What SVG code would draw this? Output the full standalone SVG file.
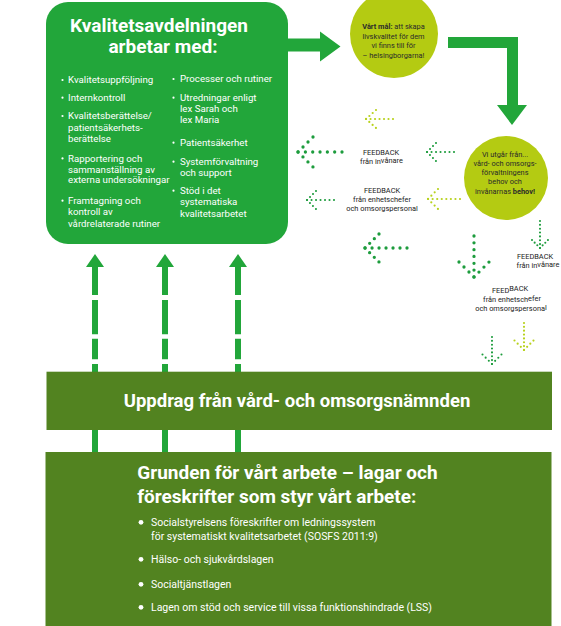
<svg xmlns="http://www.w3.org/2000/svg" width="561" height="626" viewBox="0 0 561 626">
<style>
text{font-family:Roboto,"Liberation Sans",sans-serif}
.w{fill:#fff}
.h1{font-size:19px;font-weight:700;fill:#fff}
.li{font-size:9.7px;fill:#fff}
.bl{fill:#fff}
.fb{font-size:7.4px;fill:#222;text-anchor:middle}
.ci{font-size:7.4px;fill:#2a2a2a;text-anchor:middle}
.g{fill:#22a63a}
.dd{fill:none;stroke:#1d9c3d;stroke-linecap:round;stroke-width:3.3}
.ds{fill:none;stroke:#1d9c3d;stroke-linecap:round;stroke-width:2.1}
.ls{fill:none;stroke:#b8d21d;stroke-linecap:round;stroke-width:2.2}
.up{fill:none;stroke:#22a63a;stroke-width:6}
.lst{font-size:10.5px;fill:#fff}
</style>

<g id="connectors">
  <!-- box to goal -->
  <path class="g" d="M287,38.5 H320 V31.5 L340.5,46.5 L320,61.5 V51.5 H287 Z"/>
  <!-- goal to needs -->
  <path class="g" d="M448,37 H518 V105 H527 L512,125 L497,105 H507 V48 H448 Z"/>
  <!-- dashed up arrows -->
  <g id="up1">
    <path class="up" d="M95,452 V430 M95,372 V364 M95,359.3 V338.7 M95,334.3 V300 M95,295 V266"/>
    <polygon class="g" points="86,267 95,254 104,267"/>
  </g>
  <g id="up2">
    <path class="up" d="M165,452 V430 M165,372 V364 M165,359.3 V338.7 M165,334.3 V300 M165,295 V266"/>
    <polygon class="g" points="156,267 165,254 174,267"/>
  </g>
  <g id="up3">
    <path class="up" d="M238,452 V430 M238,372 V364 M238,359.3 V338.7 M238,334.3 V300 M238,295 V266"/>
    <polygon class="g" points="229,267 238,254 247,267"/>
  </g>
  <!-- dotted feedback arrows -->
  <path class="ls" stroke-dasharray="0 4.49" d="M393,119 L366,119"/>
  <path class="ls" stroke-dasharray="0 4.47" d="M376,110 L366,119 L376,128"/>

  <path class="dd" stroke-dasharray="0 7.32" d="M342,152 L298,152"/>
  <path class="dd" stroke-dasharray="0 7.06" d="M313,137 L298,152 L313,167"/>

  <path class="ds" stroke-dasharray="0 4.49" d="M454,152 L427,152"/>
  <path class="ds" stroke-dasharray="0 4.23" d="M436,143 L427,152 L436,161"/>

  <path class="ds" stroke-dasharray="0 4.49" d="M334,200 L307,200"/>
  <path class="ds" stroke-dasharray="0 4.23" d="M316,191 L307,200 L316,209"/>

  <path class="ls" stroke-dasharray="0 4.56" d="M460,199 L428,199"/>
  <path class="ls" stroke-dasharray="0 4.7" d="M438,189 L428,199 L438,209"/>

  <path class="dd" stroke-dasharray="0 6.99" d="M407,248 L365,248"/>
  <path class="dd" stroke-dasharray="0 6.59" d="M379,234 L365,248 L379,262"/>

  <path class="dd" stroke-dasharray="0 6.82" d="M474,236 L474,277"/>
  <path class="dd" stroke-dasharray="0 7.06" d="M459,262 L474,277 L489,262"/>

  <path class="ds" stroke-dasharray="0 3.85" d="M540,221 L540,248"/>
  <path class="ds" stroke-dasharray="0 3.76" d="M532,240 L540,248 L548,240"/>

  <path class="ds" stroke-dasharray="0 3.85" d="M492,337 L492,364"/>
  <path class="ds" stroke-dasharray="0 4.47" d="M482.5,354.5 L492,364 L501.5,354.5"/>

  <path class="ls" stroke-dasharray="0 3.85" d="M524,323 L524,350"/>
  <path class="ls" stroke-dasharray="0 4.47" d="M514.5,340.5 L524,350 L533.5,340.5"/>
</g>

<g id="kvalitet">
  <rect class="g" x="46" y="2" width="242" height="242" rx="22"/>
  <text class="h1" x="159" y="31.7" text-anchor="middle">Kvalitetsavdelningen</text>
  <text class="h1" x="163" y="53.3" text-anchor="middle">arbetar med:</text>
  <g class="bl">
    <circle cx="62.5" cy="80" r="1.1"/>
    <circle cx="62.5" cy="97.7" r="1.1"/>
    <circle cx="62.5" cy="116" r="1.1"/>
    <circle cx="62.5" cy="158.4" r="1.1"/>
    <circle cx="62.5" cy="200.7" r="1.1"/>
    <circle cx="173.5" cy="79" r="1.1"/>
    <circle cx="173.5" cy="97.7" r="1.1"/>
    <circle cx="173.5" cy="142.7" r="1.1"/>
    <circle cx="173.5" cy="161.7" r="1.1"/>
    <circle cx="173.5" cy="190.7" r="1.1"/>
  </g>
  <text class="li" x="68" y="83.3">Kvalitetsuppföljning</text>
  <text class="li" x="68" y="101">Internkontroll</text>
  <text class="li" x="68" y="119.3">Kvalitetsberättelse/</text>
  <text class="li" x="68" y="131">patientsäkerhets-</text>
  <text class="li" x="68" y="141.7">berättelse</text>
  <text class="li" x="68" y="161.7">Rapportering och</text>
  <text class="li" x="68" y="172.7">sammanställning av</text>
  <text class="li" x="68" y="183.3">externa undersökningar</text>
  <text class="li" x="68" y="204">Framtagning och</text>
  <text class="li" x="68" y="215">kontroll av</text>
  <text class="li" x="68" y="226.7">vårdrelaterade rutiner</text>
  <text class="li" x="180" y="82.3">Processer och rutiner</text>
  <text class="li" x="180" y="101">Utredningar enligt</text>
  <text class="li" x="180" y="112.3">lex Sarah och</text>
  <text class="li" x="180" y="123.3">lex Maria</text>
  <text class="li" x="180" y="146">Patientsäkerhet</text>
  <text class="li" x="180" y="165">Systemförvaltning</text>
  <text class="li" x="180" y="175.7">och support</text>
  <text class="li" x="180" y="194">Stöd i det</text>
  <text class="li" x="180" y="205">systematiska</text>
  <text class="li" x="180" y="216.7">kvalitetsarbetet</text>
</g>

<g id="mal">
  <circle cx="394" cy="34" r="44" fill="#b4cb12"/>
  <text class="ci" x="393.5" y="29.3"><tspan font-weight="700">Vårt mål:</tspan> att skapa</text>
  <text class="ci" x="393.5" y="39">livskvalitet för dem</text>
  <text class="ci" x="393.5" y="48.3">vi finns till för</text>
  <text class="ci" x="393.5" y="57.7">– helsingborgarna!</text>
</g>

<g id="behov">
  <circle cx="506" cy="178" r="42" fill="#b4cb12"/>
  <text class="ci" x="505" y="156.7">Vi utgår från...</text>
  <text class="ci" x="505" y="166">vård- och omsorgs-</text>
  <text class="ci" x="505" y="175">förvaltningens</text>
  <text class="ci" x="505" y="184.3">behov och</text>
  <text class="ci" x="505" y="193.7">invånarnas <tspan font-weight="700">behov!</tspan></text>
</g>

<g id="fb1">
  <text class="fb" x="381" y="155">FEEDBACK</text>
  <text class="fb" x="381.5" y="164">från in<tspan dy="-1.2">vånare</tspan></text>
</g>
<g id="fb2">
  <text class="fb" x="382" y="193.3">FEEDBACK</text>
  <text class="fb" x="382" y="201.7">från enhetschefer</text>
  <text class="fb" x="382" y="210.7">och omsorgspersonal</text>
</g>
<g id="fb3">
  <text class="fb" x="535" y="259">FEEDBACK</text>
  <text class="fb" x="538" y="268.3">från in<tspan dy="-1.2">vånare</tspan></text>
</g>
<g id="fb4">
  <text class="fb" x="510" y="292.7">FEED<tspan dy="-1.5">BACK</tspan></text>
  <text class="fb" x="512" y="301.7">från enhetsch<tspan dy="-1.2">efer</tspan></text>
  <text class="fb" x="511" y="310.7">och omsorgspersona<tspan dy="-1">l</tspan></text>
</g>

<g id="uppdrag">
  <rect x="46.5" y="371.7" width="505.5" height="58.3" fill="#528320"/>
  <text x="297" y="407" text-anchor="middle" font-size="18.5" font-weight="700" fill="#fff">Uppdrag från vård- och omsorgsnämnden</text>
</g>

<g id="grunden">
  <rect x="45.5" y="452" width="506" height="174" fill="#528320"/>
  <text class="h1" x="137.3" y="479">Grunden för vårt arbete – lagar och</text>
  <text class="h1" x="137.3" y="502.7">föreskrifter som styr vårt arbete:</text>
  <g class="bl">
    <circle cx="141" cy="522.3" r="2.4"/>
    <circle cx="141" cy="559.3" r="2.4"/>
    <circle cx="141" cy="584.3" r="2.4"/>
    <circle cx="141" cy="607.3" r="2.4"/>
  </g>
  <text class="lst" x="151" y="526">Socialstyrelsens föreskrifter om ledningssystem</text>
  <text class="lst" x="151" y="540">för systematiskt kvalitetsarbetet (SOSFS 2011:9)</text>
  <text class="lst" x="151" y="563">Hälso- och sjukvårdslagen</text>
  <text class="lst" x="151" y="588">Socialtjänstlagen</text>
  <text class="lst" x="151" y="611">Lagen om stöd och service till vissa funktionshindrade (LSS)</text>
</g>
</svg>
